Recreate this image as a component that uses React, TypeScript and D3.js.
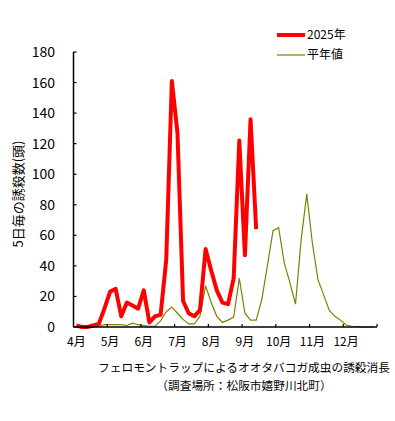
import React from 'react';
import * as d3 from 'd3';

const svgWidth = 395;
const svgHeight = 421;

const months = ['4月', '5月', '6月', '7月', '8月', '9月', '10月', '11月', '12月'];
const yTicks = [0, 20, 40, 60, 80, 100, 120, 140, 160, 180];

// 5日毎の誘殺数 (4月1半旬 から)
const values2025 = [
  1, 0, 0, 1, 2, 12, 23, 25, 7, 16, 14, 12, 24, 3, 7, 8, 44, 161, 127, 17, 9, 7, 11, 51, 37, 24, 16,
  15, 32, 122, 47, 136, 64,
];
const normalValues = [
  0, 0, 0, 0, 0.5, 1.5, 1.5, 1.5, 1.5, 1, 2.5, 1.5, 1, 0.5, 0.5, 4, 10, 13, 9, 5, 2, 2, 7, 27, 16, 7,
  3, 4.5, 6.5, 32, 9, 4.5, 4.5, 18, 40, 63, 65, 42, 29, 15, 57, 87, 55, 31, 21, 11, 7, 4.5, 1.3, 0.5,
  0.3, 0, 0, 0,
];

const left = 73.5;
const right = 377;
const top = 52;
const bottom = 327;

const font = '"Noto Sans CJK JP", "Noto Sans", sans-serif';

export default function App() {
  const x = d3.scaleBand<number>().domain(d3.range(54)).range([left, right]);
  const y = d3.scaleLinear().domain([0, 180]).range([bottom, top]);
  const cx = (i: number) => (x(i) as number) + x.bandwidth() / 2;

  const line = d3
    .line<number>()
    .x((d, i) => cx(i))
    .y((d) => y(d));

  const boundaries = d3.range(1, 10).map((k) => left + 6 * k * x.step());

  return (
    <svg
      width={svgWidth}
      height={svgHeight}
      style={{ position: 'absolute', left: 0, top: 0, background: '#fff' }}
      fontFamily={font}
    >
      {/* lines */}
      <path d={line(normalValues) || ''} fill="none" stroke="#808000" strokeWidth={1.2} />
      <path
        d={line(values2025) || ''}
        fill="none"
        stroke="#ff0000"
        strokeWidth={4}
        strokeLinejoin="round"
      />

      {/* y axis */}
      <line x1={left} x2={left} y1={top} y2={bottom} stroke="#000" strokeWidth={1.5} />
      {yTicks.map((t) => (
        <g key={t}>
          <line x1={left} x2={left + 3} y1={y(t)} y2={y(t)} stroke="#000" strokeWidth={1.2} />
          <text x={55} y={y(t)} dy="0.36em" textAnchor="end" fontSize={14} fill="#000">
            {t}
          </text>
        </g>
      ))}

      {/* x axis */}
      <line x1={left} x2={right} y1={bottom} y2={bottom} stroke="#000" strokeWidth={1.5} />
      {boundaries.map((b, i) => (
        <line key={i} x1={b} x2={b} y1={bottom} y2={bottom - 3} stroke="#000" strokeWidth={1.2} />
      ))}
      {months.map((m, k) => (
        <text key={m} x={cx(6 * k)} y={342} dy="0.36em" textAnchor="middle" fontSize={12} fill="#000">
          {m}
        </text>
      ))}

      {/* y title */}
      <text
        transform={`translate(18, 194) rotate(-90)`}
        textAnchor="middle"
        dy="0.36em"
        fontSize={13}
        fill="#000"
      >
        5日毎の誘殺数(頭)
      </text>

      {/* legend */}
      <line x1={277} x2={305} y1={35} y2={35} stroke="#ff0000" strokeWidth={4} />
      <text x={307} y={35} dy="0.36em" fontSize={12} fill="#000">
        2025年
      </text>
      <line x1={277} x2={305} y1={55} y2={55} stroke="#808000" strokeWidth={1.2} />
      <text x={307} y={55} dy="0.36em" fontSize={12} fill="#000">
        平年値
      </text>

      {/* caption */}
      <text x={244} y={368} dy="0.36em" textAnchor="middle" fontSize={11.7} fill="#000">
        フェロモントラップによるオオタバコガ成虫の誘殺消長
      </text>
      <text x={244} y={386} dy="0.36em" textAnchor="middle" fontSize={11.7} fill="#000">
        （調査場所：松阪市嬉野川北町）
      </text>
    </svg>
  );
}
